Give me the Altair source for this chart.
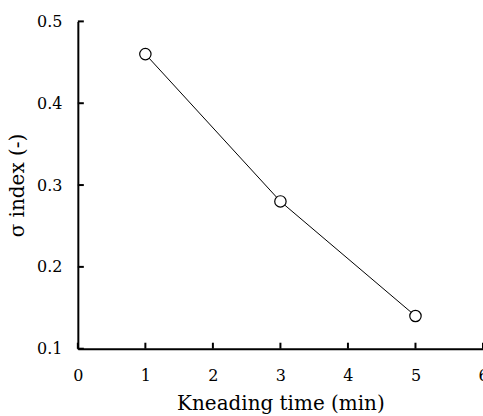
import altair as alt
import pandas as pd

kneading_time = [1, 3, 5]
sigma_index = [0.46, 0.28, 0.14]
x_ticks = [0, 1, 2, 3, 4, 5, 6]
y_ticks = [0.1, 0.2, 0.3, 0.4, 0.5]

df = pd.DataFrame({"t": kneading_time, "s": sigma_index})
xt = pd.DataFrame({"v": x_ticks})
yt = pd.DataFrame({"v": y_ticks})

W, H = 406, 328
FONT = "DejaVu Serif"

xscale = alt.Scale(domain=[0, 6], nice=False, zero=False)
yscale = alt.Scale(domain=[0.1, 0.5], nice=False, zero=False)

xaxis = alt.Axis(values=x_ticks, format="d", grid=False, ticks=False,
                 domainColor="black", domainWidth=2, labelFont=FONT, labelFontSize=16,
                 labelColor="black", labelPadding=19, title="Kneading time (min)",
                 titleFont=FONT, titleFontSize=20, titleFontWeight="normal",
                 titleColor="black", titlePadding=10, labelFlush=False)
yaxis = alt.Axis(values=y_ticks, format=".1f", grid=False, ticks=False,
                 domainColor="black", domainWidth=2, labelFont=FONT, labelFontSize=16,
                 labelColor="black", labelPadding=16, title="σ index (-)",
                 titleFont=FONT, titleFontSize=20, titleFontWeight="normal",
                 titleColor="black", titlePadding=9)

line = alt.Chart(df).mark_line(color="black", strokeWidth=1).encode(
    x=alt.X("t:Q", scale=xscale, axis=xaxis),
    y=alt.Y("s:Q", scale=yscale, axis=yaxis),
)
pts = alt.Chart(df).mark_point(shape="circle", filled=True, fill="white",
                               stroke="black", strokeWidth=1.2, size=130, opacity=1).encode(
    x=alt.X("t:Q", scale=xscale),
    y=alt.Y("s:Q", scale=yscale),
)
xtk = alt.Chart(xt).mark_rule(color="black", strokeWidth=2).encode(
    x=alt.X("v:Q", scale=xscale),
    y=alt.value(H - 6), y2=alt.value(H),
)
ytk = alt.Chart(yt).mark_rule(color="black", strokeWidth=2).encode(
    y=alt.Y("v:Q", scale=yscale),
    x=alt.value(0), x2=alt.value(6),
)

chart = alt.layer(line, xtk, ytk, pts).properties(
    width=W, height=H,
    background="white",
    autosize=alt.AutoSizeParams(type="none"),
    padding={"left": 78, "top": 21, "right": 0, "bottom": 67},
).configure_view(stroke=None)

chart.save("out.html", embed_options={"renderer": "svg", "actions": False})
